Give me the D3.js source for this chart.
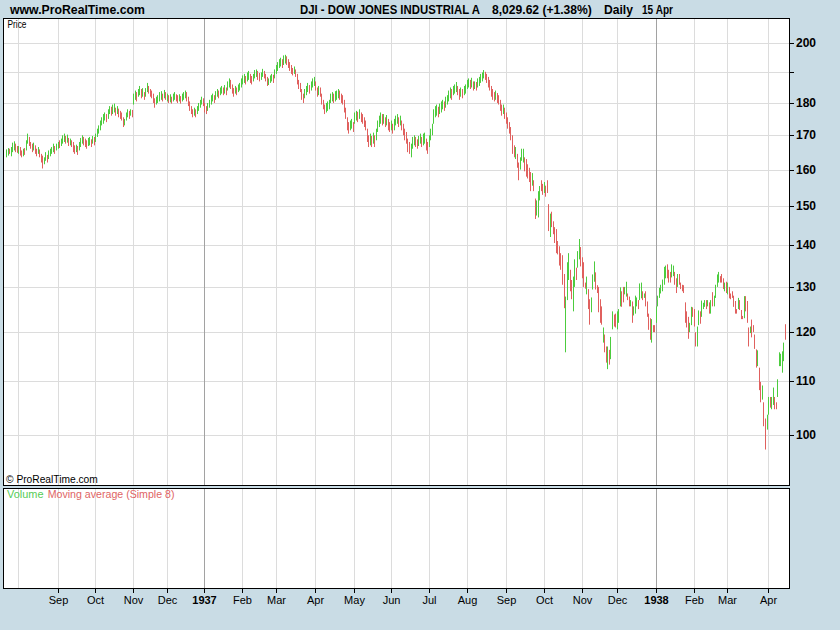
<!DOCTYPE html>
<html><head><meta charset="utf-8">
<script src="https://cdn.jsdelivr.net/npm/d3@7"></script>
<style>body{margin:0;background:#c9dce5;} svg{display:block;}</style>
</head><body><svg id="c" width="840" height="630"></svg>
<script>
// ---- price axis ----
const priceTicks = [100,110,120,130,140,150,160,170,180,190,200];
const priceTickLabels = ['100','110','120','130','140','150','160','170','180','','200'];
// ---- time axis: bar index of first trading day of each month ----
const monthIdx = [8,34,59,84,106,131,156,178,204,230,254,279,304,330,355,380,403,429,454,476,503];
const monthLabels = ['','Sep','Oct','Nov','Dec','1937','Feb','Mar','Apr','May','Jun','Jul','Aug','Sep','Oct','Nov','Dec','1938','Feb','Mar','Apr'];
const yearLabels = ['1937','1938'];
// ---- daily bars (Jul 1936 .. 14 Apr 1938) ----
const low = [
 163.5,164.0,164.5,163.8,165.0,165.5,165.0,164.8,
 164.5,164.0,163.5,163.8,164.2,165.5,167.5,166.8,166.0,165.0,165.5,164.5,163.8,164.5,163.5,162.0,160.3,161.5,162.5,162.0,163.0,163.8,164.5,165.0,164.5,165.5,
 166.0,166.2,166.8,167.5,168.0,167.5,167.8,166.8,167.0,166.5,165.0,164.5,165.0,164.2,165.5,166.5,167.5,167.0,166.5,166.0,166.8,167.0,166.5,167.5,167.0,
 168.0,169.5,170.5,171.5,173.0,173.5,174.5,174.0,175.0,176.5,176.0,176.5,177.0,176.0,176.5,175.5,175.0,174.5,172.5,173.0,174.5,175.5,175.0,176.0,175.5,
 179.5,181.0,180.5,182.0,182.5,181.5,182.0,181.0,182.0,183.5,183.0,182.0,181.5,180.0,178.5,179.5,180.0,180.5,181.0,180.5,181.5,181.0,
 180.5,180.0,180.2,179.8,180.5,181.0,180.5,180.0,180.5,179.8,180.5,181.0,181.5,180.5,179.0,177.5,176.5,175.5,176.0,175.5,176.5,177.5,178.5,179.5,179.0,
 177.0,176.5,177.5,178.5,179.5,180.5,180.0,181.0,182.0,181.5,182.5,183.0,182.5,183.0,182.5,184.0,185.0,184.5,183.0,182.0,183.0,182.5,183.5,184.0,185.0,
 186.0,186.5,186.0,187.0,187.5,186.5,186.0,187.0,188.0,188.5,187.5,187.0,187.5,188.5,188.0,187.0,185.5,185.8,186.5,187.0,186.5,188.0,
 189.5,190.5,191.5,192.0,191.5,192.5,193.0,192.5,191.5,190.5,189.5,189.0,189.5,188.5,186.0,184.5,183.5,181.0,180.0,181.5,182.5,183.5,183.0,184.0,185.0,185.5,
 184.0,182.0,182.5,182.0,179.5,178.0,176.5,177.0,177.5,178.0,180.0,180.5,180.0,180.5,181.0,181.5,181.0,180.0,179.5,177.0,175.0,171.5,170.5,171.5,172.0,171.0,
 173.5,174.5,174.0,175.0,174.0,173.5,172.5,171.5,168.0,166.5,167.0,166.5,167.5,166.5,168.5,171.0,172.5,173.5,173.0,173.5,172.5,173.0,171.5,171.0,
 171.5,170.5,171.5,173.0,173.5,172.5,173.0,171.5,170.0,168.5,167.5,165.0,164.5,163.5,166.0,167.0,166.5,166.0,166.8,167.5,166.5,167.0,167.5,165.5,164.5,
 166.5,168.5,170.0,173.5,175.5,176.0,175.5,176.5,177.0,178.0,177.5,178.5,179.5,180.5,181.5,181.0,182.5,183.0,183.5,182.5,181.0,182.0,181.5,182.5,183.0,
 184.5,185.0,184.5,185.0,184.0,184.5,184.0,185.0,185.5,186.5,187.0,188.0,187.5,186.5,185.0,184.0,182.0,181.0,180.5,181.0,180.0,179.5,177.5,176.0,176.5,175.0,
 173.5,172.0,170.5,168.5,164.5,163.5,163.0,160.5,157.0,160.0,162.5,162.0,159.5,158.0,157.5,156.5,154.0,155.5,154.0,146.6,147.5,147.0,151.5,154.0,153.0,
 153.5,152.5,153.5,143.5,142.0,144.5,142.7,140.5,138.0,137.7,135.0,134.0,130.5,125.2,115.8,127.0,131.6,129.0,127.2,124.5,130.0,131.6,134.5,136.5,134.8,
 132.0,130.0,129.6,128.3,125.0,121.6,124.3,129.4,131.2,129.4,128.6,124.3,122.0,121.6,117.8,115.8,113.7,112.4,113.3,114.4,120.6,121.2,121.0,
 120.6,122.0,125.6,125.5,126.5,128.3,127.8,127.0,125.6,125.6,122.0,123.6,124.0,125.6,125.0,127.0,127.4,127.0,127.5,125.6,123.3,120.5,118.4,117.8,120.0,120.0,
 122.0,125.6,127.5,128.5,129.0,130.5,132.0,132.0,131.0,131.0,132.2,132.5,130.5,128.6,130.0,130.5,129.5,129.0,128.6,122.0,121.0,118.6,120.0,121.5,123.3,
 121.2,117.0,117.0,121.5,121.8,123.3,125.0,125.5,125.0,125.6,124.0,124.0,125.6,125.6,127.5,130.0,131.0,131.0,131.0,129.5,129.0,128.6,
 128.3,127.4,127.2,127.5,125.5,124.0,124.0,125.0,124.8,122.8,122.8,123.0,124.5,122.0,117.0,119.8,118.9,120.0,116.5,112.7,113.0,108.3,106.0,106.5,101.6,97.5,101.0,
 103.7,105.0,104.7,105.5,104.7,104.7,107.0,113.0,113.0,111.7,114.0,118.4
];
const high = [
 165.8,166.2,166.0,166.5,167.8,168.2,167.5,166.8,
 166.8,166.5,165.5,166.0,166.2,168.5,170.5,169.5,168.0,167.5,167.8,167.0,166.0,166.5,165.8,164.5,164.0,163.5,165.0,164.2,165.5,166.0,166.5,167.5,166.8,167.5,
 168.0,168.5,169.0,170.0,170.5,169.8,170.2,169.2,169.0,168.5,168.0,167.0,167.2,166.8,168.0,169.2,170.0,169.5,169.0,168.5,169.2,169.5,168.8,169.8,169.5,
 170.5,172.0,173.0,174.5,175.5,176.5,177.0,176.5,178.0,179.0,178.8,179.5,179.8,178.5,179.0,178.2,177.5,177.0,175.5,175.0,177.0,178.0,177.5,178.0,177.8,
 183.0,184.0,183.5,184.5,185.5,184.5,184.8,183.5,184.8,186.5,185.5,184.5,184.0,183.0,181.5,182.0,182.5,183.5,183.8,183.0,184.2,183.5,
 183.0,182.5,182.8,182.0,183.0,183.5,182.8,182.5,182.8,182.2,183.0,183.5,184.0,183.5,182.0,180.5,179.0,178.0,178.5,178.0,179.0,180.0,181.0,182.0,181.5,
 180.0,179.0,180.0,181.0,182.5,183.0,182.5,183.8,184.5,184.0,185.0,185.5,185.0,185.8,185.0,187.0,188.0,187.5,186.0,184.8,185.5,185.0,186.0,186.5,188.0,
 189.0,189.5,188.8,190.0,190.5,189.5,188.8,189.5,190.8,191.0,190.5,189.8,190.0,191.2,190.5,189.5,188.5,188.0,189.0,189.5,189.2,191.0,
 192.5,193.5,194.5,195.0,194.5,195.8,196.0,195.5,194.5,193.5,192.5,191.5,192.0,191.0,189.5,187.5,186.5,184.5,183.0,184.5,185.5,186.5,185.8,187.0,188.0,188.5,
 187.0,185.0,185.5,185.0,183.0,181.0,179.5,180.0,180.5,181.0,183.0,183.5,183.0,183.8,184.0,184.5,184.0,183.0,182.5,181.0,178.5,175.5,174.0,174.5,175.0,174.0,
 177.0,177.5,177.2,178.0,177.0,176.5,175.5,174.5,172.0,170.0,170.5,169.8,170.8,170.0,172.0,174.5,176.0,177.0,176.5,176.5,175.5,176.2,175.0,174.0,
 174.5,173.5,175.0,176.0,176.5,175.5,176.0,174.5,173.5,172.0,171.0,169.0,168.0,167.5,169.5,170.0,169.5,168.8,169.8,170.5,169.5,170.5,170.8,169.0,168.0,
 170.0,172.0,173.5,178.0,179.0,179.5,178.8,179.8,180.5,181.0,180.5,182.0,182.5,184.0,185.0,184.5,185.5,186.0,186.8,185.5,184.5,185.0,184.5,185.5,186.0,
 187.5,188.0,187.5,188.2,187.0,187.0,186.8,188.0,188.5,189.5,190.0,190.8,190.2,189.5,188.5,187.5,185.5,184.5,183.5,184.0,183.2,182.5,181.0,179.5,179.5,178.5,
 177.0,175.5,174.0,172.5,170.0,167.0,166.5,164.5,162.0,163.5,166.0,166.0,163.5,163.0,161.5,160.5,159.3,159.0,157.0,152.0,151.5,154.0,155.4,157.0,156.0,
 156.5,155.5,157.0,150.5,148.0,148.5,146.0,144.5,144.0,141.0,139.7,138.0,137.5,133.0,127.8,135.8,138.0,134.0,131.6,132.4,136.5,134.5,138.5,141.5,139.5,
 137.0,135.8,131.0,132.4,129.5,127.2,127.6,132.9,136.0,133.4,130.4,130.0,127.2,125.6,121.0,119.5,117.0,117.0,116.3,119.0,124.5,123.8,124.0,
 124.5,125.0,129.9,129.0,130.0,130.0,131.2,128.5,127.8,127.0,126.7,125.6,128.0,127.6,127.0,130.8,131.0,129.0,128.5,129.0,126.7,124.0,123.0,122.8,121.5,121.5,
 125.6,128.0,129.8,130.5,131.7,134.7,135.0,135.3,134.0,133.5,135.3,135.0,133.5,132.0,133.0,133.0,131.0,130.5,130.4,126.5,124.5,123.3,122.0,125.5,125.4,
 125.0,120.0,121.2,124.7,124.5,126.9,126.4,127.0,127.0,127.0,126.5,127.0,128.8,128.0,130.5,132.9,133.5,132.5,133.0,132.0,131.0,131.2,
 131.0,130.0,128.5,129.0,128.0,126.8,125.0,127.5,127.0,124.8,123.5,127.9,127.9,126.8,121.0,121.2,122.7,121.5,119.5,116.4,116.2,112.7,109.9,109.2,106.0,103.0,103.7,
 107.0,107.0,107.0,108.8,107.0,106.0,110.4,115.8,115.5,116.0,117.8,121.7
];
// u = close above open (green), d = close below open (red)
const direction = [
 "uuduuudd",
 "uddud","uuddd","uddud","dduud","uuuud","u",
 "uduuu","dudud","ddudu","uuddd","uudud",
 "uuuuu","uuduu","duudu","ddddu","uudud",
 "uuduu","duduu","ddddd","uuuud","ud",
 "ududu","uddud","uuudd","dddud","uuuud",
 "dduuu","uduud","uudud","uuddd","uduuu",
 "uuduu","dduuu","dduud","dduuu","du",
 "uuuud","uuddd","ddudd","ddddu","uuduu","u",
 "ddudd","dduuu","uuduu","udddd","ddduu","d",
 "uudud","ddddd","ududu","uuudu","dudd",
 "uduuu","duddd","ddduu","udduu","duudd",
 "uuuuu","uduuu","duuuu","duuud","duduu",
 "uudud","uduuu","uuddd","ddddu","ddddu","d",
 "ddddd","duddu","uuddd","ddudd","uuudd",
 "udddu","ddddd","ddddu","uuddu","uduud",
 "dddud","duuud","ddddu","ddudu","udd",
 "uuudd","uuddu","duuud","uudud","dddud","d",
 "uuuuu","uuddd","uuddu","ddddd","dduud",
 "dduud","uuudu","duduu","uuddd","ud",
 "udddd","ddudd","duddd","udddd","uddud","du",
 "uduud","duuuu","ud"
].join('').split('');

const W = 840, H = 630;
const L = 3.5, R = 789.5, T = 18.5, B = 485.5, VT = 488.5, VB = 588.5;
const UP = '#4ccc3e', DOWN = '#e0605e', GRID = '#dcdcdc', YEARGRID = '#a2a2a2';
const FONT = '"Liberation Sans", Arial, sans-serif';

const svg = d3.select('#c');
svg.append('rect').attr('width', W).attr('height', H).attr('fill', '#c9dce5');

const x = d3.scaleLinear().domain([0, 515]).range([6, 6 + 515 * 1.515]).interpolate(d3.interpolateRound);
const y = d3.scaleLog().domain([91.57, 209.2]).range([485, 18]);
const yr = y.copy().interpolate(d3.interpolateRound);

// panels
svg.append('rect').attr('x', L).attr('y', T).attr('width', R - L).attr('height', B - T).attr('fill', '#fff');
svg.append('rect').attr('x', L).attr('y', VT).attr('width', R - L).attr('height', VB - VT).attr('fill', '#fff');

// horizontal grid
svg.append('g').selectAll('line').data(priceTicks).join('line')
  .attr('x1', L).attr('x2', R)
  .attr('y1', d => yr(d) + 0.5).attr('y2', d => yr(d) + 0.5)
  .attr('stroke', GRID).attr('stroke-width', 1);

// vertical grid (price and volume panels)
const vg = svg.append('g');
monthIdx.forEach((mi, k) => {
  const isYear = yearLabels.includes(monthLabels[k]);
  const xx = x(mi) + 0.5;
  [[T, B], [VT, VB]].forEach(([a, b]) => {
    vg.append('line').attr('x1', xx).attr('x2', xx).attr('y1', a).attr('y2', b)
      .attr('stroke', isYear ? YEARGRID : GRID).attr('stroke-width', 1);
  });
});

// bars
const bars = d3.range(low.length).map(i => ({i, lo: low[i], hi: high[i], up: direction[i] === 'u'}));
svg.append('defs').append('clipPath').attr('id', 'pc').append('rect')
  .attr('x', L).attr('y', T).attr('width', R - L).attr('height', B - T);
svg.append('g').attr('clip-path', 'url(#pc)').selectAll('line').data(bars).join('line')
  .attr('x1', d => x(d.i) + 0.5).attr('x2', d => x(d.i) + 0.5)
  .attr('y1', d => y(d.hi)).attr('y2', d => y(d.lo))
  .attr('stroke', d => d.up ? UP : DOWN).attr('stroke-width', 1);

// panel borders
[[T, B], [VT, VB]].forEach(([a, b]) => {
  svg.append('rect').attr('x', L).attr('y', a).attr('width', R - L).attr('height', b - a)
    .attr('fill', 'none').attr('stroke', '#000').attr('stroke-width', 1);
});

// right price axis
const ya = svg.append('g').attr('transform', `translate(${R - 0.5},0)`)
  .call(d3.axisRight(yr).tickValues(priceTicks).tickFormat((d, k) => priceTickLabels[k]).tickSize(5).tickPadding(2));
ya.select('.domain').remove();
ya.selectAll('line').attr('stroke', '#000');
ya.selectAll('text').attr('font-family', FONT).attr('font-size', 12).attr('font-weight', 'bold').attr('fill', '#000');

// bottom time axis
const labeled = monthIdx.filter((d, k) => monthLabels[k] !== '');
const xa = svg.append('g').attr('transform', `translate(0,${VB - 0.5})`)
  .call(d3.axisBottom(x).tickValues(labeled).tickFormat(d => monthLabels[monthIdx.indexOf(d)]).tickSize(5).tickPadding(3));
xa.select('.domain').remove();
xa.selectAll('line').attr('stroke', '#000');
xa.selectAll('text').attr('font-family', FONT).attr('font-size', 11).attr('fill', '#000')
  .attr('font-weight', d => yearLabels.includes(monthLabels[monthIdx.indexOf(d)]) ? 'bold' : 'normal');

// text fitted horizontally to a target width (condensed look of the original)
function fitText(t, xx, yy, len, size, weight, fill) {
  const el = svg.append('text').attr('x', 0).attr('y', 0).text(t)
    .attr('font-family', FONT).attr('font-size', size).attr('font-weight', weight).attr('fill', fill);
  const w = el.node().getComputedTextLength() || len;
  el.attr('transform', `translate(${xx},${yy}) scale(${len / w},1)`);
  return el;
}
fitText('www.ProRealTime.com', 10, 13.5, 135, 13, 'bold', '#000');
fitText('DJI - DOW JONES INDUSTRIAL A', 300, 13.5, 180, 13, 'bold', '#000');
fitText('8,029.62 (+1.38%)', 492, 13.5, 100, 13, 'bold', '#000');
fitText('Daily', 604, 13.5, 29, 13, 'bold', '#000');
fitText('15 Apr', 642, 13.5, 31, 13, 'bold', '#000');

// panel labels
fitText('Price', 7.5, 28, 19, 10, 'normal', '#000');
fitText('\u00A9 ProRealTime.com', 6, 483, 92, 11, 'normal', '#000');
fitText('Volume', 7, 497.5, 36.5, 10.5, 'normal', '#55cc55');
fitText('Moving average (Simple 8)', 47.7, 497.5, 127, 10.5, 'normal', '#e06464');
</script>
</body></html>
